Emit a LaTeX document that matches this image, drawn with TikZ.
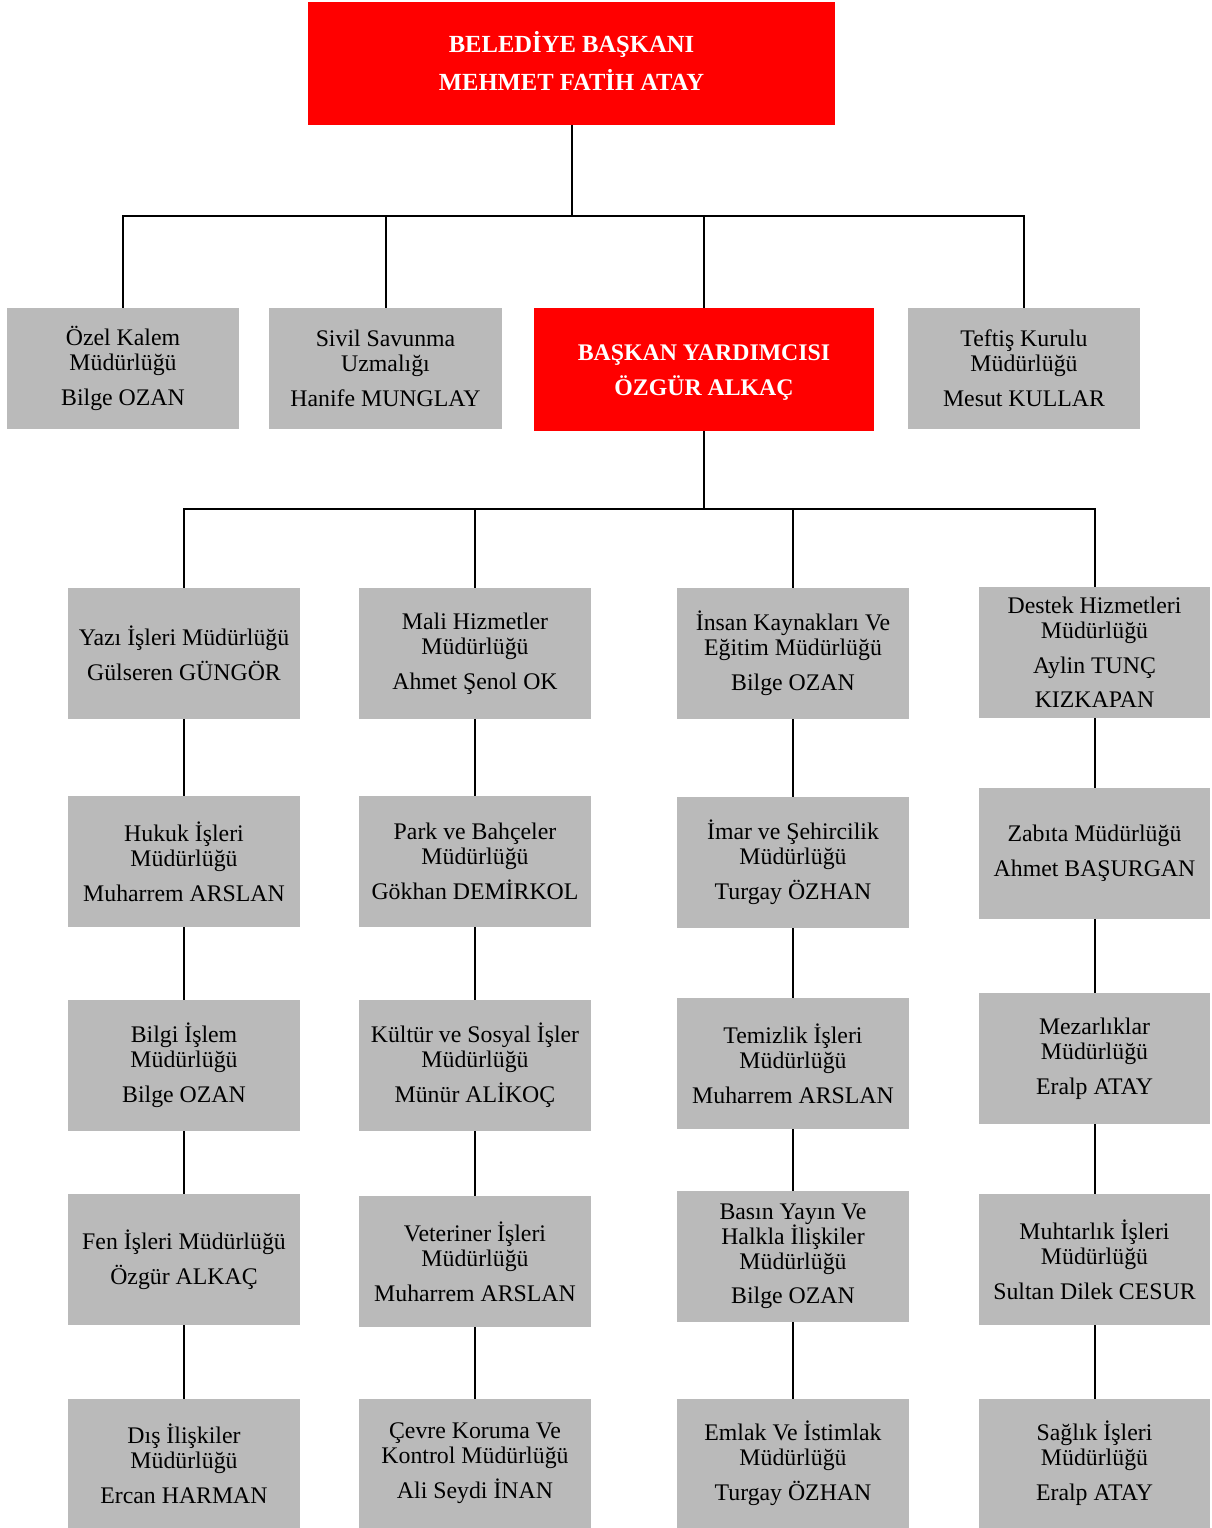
\documentclass[tikz,border=0pt]{standalone}
\usepackage{fontspec}
\setmainfont{Liberation Serif}
\definecolor{boxgray}{RGB}{186,186,186}
\definecolor{boxred}{RGB}{255,0,0}
\begin{document}
\begin{tikzpicture}[x=1pt,y=-1pt,
  gbox/.style={fill=boxgray,draw=none,inner sep=0pt,minimum width=232pt,minimum height=131pt,align=center,font=\fontsize{23.8}{25}\selectfont},
  rbox/.style={fill=boxred,draw=none,inner sep=0pt},
  rtext/.style={inner sep=0pt,align=center,text=white,font=\fontsize{23.8}{25}\selectfont\bfseries},
  conn/.style={draw=black,line width=2pt}]
\useasboundingbox (0,0) rectangle (1211,1528);
% top level
\node[rbox,minimum width=527pt,minimum height=123pt] (top) at (571.5,63.5) {};
\node[rtext,font=\fontsize{24.6}{25}\selectfont\bfseries,yshift=2.5pt] (toptext) at (top.center) {BELEDİYE BAŞKANI\\[10pt]MEHMET FATİH ATAY};
% second level
\node[gbox,minimum height=121pt] (ozel) at (123,368.5) {Özel Kalem\\Müdürlüğü\\[10pt]Bilge OZAN};
\node[gbox,minimum width=233pt,minimum height=121pt] (sivil) at (385.5,368.5) {Sivil Savunma\\Uzmalığı\\[10pt]Hanife MUNGLAY};
\node[rbox,minimum width=340pt,minimum height=123pt] (baskan) at (704,369.5) {};
\node[rtext,yshift=-3pt] (baskantext) at (baskan.center) {BAŞKAN YARDIMCISI\\[10pt]ÖZGÜR ALKAÇ};
\node[gbox,minimum height=121pt] (teftis) at (1024,368.5) {Teftiş Kurulu\\Müdürlüğü\\[10pt]Mesut KULLAR};
% column 1
\node[gbox] (c1a) at (184,653.5) {Yazı İşleri Müdürlüğü\\[10pt]Gülseren GÜNGÖR};
\node[gbox] (c1b) at (184,861.5) {Hukuk İşleri\\Müdürlüğü\\[10pt]Muharrem ARSLAN};
\node[gbox] (c1c) at (184,1065.5) {Bilgi İşlem\\Müdürlüğü\\[10pt]Bilge OZAN};
\node[gbox] (c1d) at (184,1259.5) {Fen İşleri Müdürlüğü\\[10pt]Özgür ALKAÇ};
\node[gbox,minimum height=129pt] (c1e) at (184,1463.5) {Dış İlişkiler\\Müdürlüğü\\[10pt]Ercan HARMAN};
% column 2
\node[gbox] (c2a) at (475,653.5) {Mali Hizmetler\\Müdürlüğü\\[10pt]Ahmet Şenol OK};
\node[gbox] (c2b) at (475,861.5) {Park ve Bahçeler\\Müdürlüğü\\[10pt]Gökhan DEMİRKOL};
\node[gbox] (c2c) at (475,1065.5) {Kültür ve Sosyal İşler\\Müdürlüğü\\[10pt]Münür ALİKOÇ};
\node[gbox] (c2d) at (475,1261.5) {Veteriner İşleri\\Müdürlüğü\\[10pt]Muharrem ARSLAN};
\node[gbox,minimum height=129pt] (c2e) at (475,1463.5) {Çevre Koruma Ve\\Kontrol Müdürlüğü\\[10pt]Ali Seydi İNAN};
% column 3
\node[gbox] (c3a) at (793,653.5) {İnsan Kaynakları Ve\\Eğitim Müdürlüğü\\[10pt]Bilge OZAN};
\node[gbox] (c3b) at (793,862.5) {İmar ve Şehircilik\\Müdürlüğü\\[10pt]Turgay ÖZHAN};
\node[gbox] (c3c) at (793,1063.5) {Temizlik İşleri\\Müdürlüğü\\[10pt]Muharrem ARSLAN};
\node[gbox] (c3d) at (793,1256.5) {Basın Yayın Ve\\Halkla İlişkiler\\Müdürlüğü\\[9pt]Bilge OZAN};
\node[gbox,minimum height=129pt] (c3e) at (793,1463.5) {Emlak Ve İstimlak\\Müdürlüğü\\[10pt]Turgay ÖZHAN};
% column 4
\node[gbox,minimum width=231pt] (c4a) at (1094.5,652.5) {Destek Hizmetleri\\Müdürlüğü\\[10pt]Aylin TUNÇ\\[9pt]KIZKAPAN};
\node[gbox,minimum width=231pt] (c4b) at (1094.5,853.5) {Zabıta Müdürlüğü\\[10pt]Ahmet BAŞURGAN};
\node[gbox,minimum width=231pt] (c4c) at (1094.5,1058.5) {Mezarlıklar\\Müdürlüğü\\[10pt]Eralp ATAY};
\node[gbox,minimum width=231pt] (c4d) at (1094.5,1259.5) {Muhtarlık İşleri\\Müdürlüğü\\[10pt]Sultan Dilek CESUR};
\node[gbox,minimum width=231pt,minimum height=129pt] (c4e) at (1094.5,1463.5) {Sağlık İşleri\\Müdürlüğü\\[10pt]Eralp ATAY};
% connectors, top level
\coordinate (bus1) at (571.5,216);
\draw[conn] (top.south) -- (bus1);
\draw[conn] (bus1) -| (ozel.north);
\draw[conn] (bus1) -| (sivil.north);
\draw[conn] (bus1) -| (baskan.north);
\draw[conn] (bus1) -| (teftis.north);
% connectors, deputy
\coordinate (bus2) at (704,509);
\draw[conn] (baskan.south) -- (bus2);
\draw[conn] (bus2) -| (c1a.north);
\draw[conn] (bus2) -| (c2a.north);
\draw[conn] (bus2) -| (c3a.north);
\draw[conn] (bus2) -| (c4a.north);
% column chains
\foreach \c in {c1,c2,c3,c4}{
  \draw[conn] (\c a.south) -- (\c b.north);
  \draw[conn] (\c b.south) -- (\c c.north);
  \draw[conn] (\c c.south) -- (\c d.north);
  \draw[conn] (\c d.south) -- (\c e.north);
}
\end{tikzpicture}
\end{document}
